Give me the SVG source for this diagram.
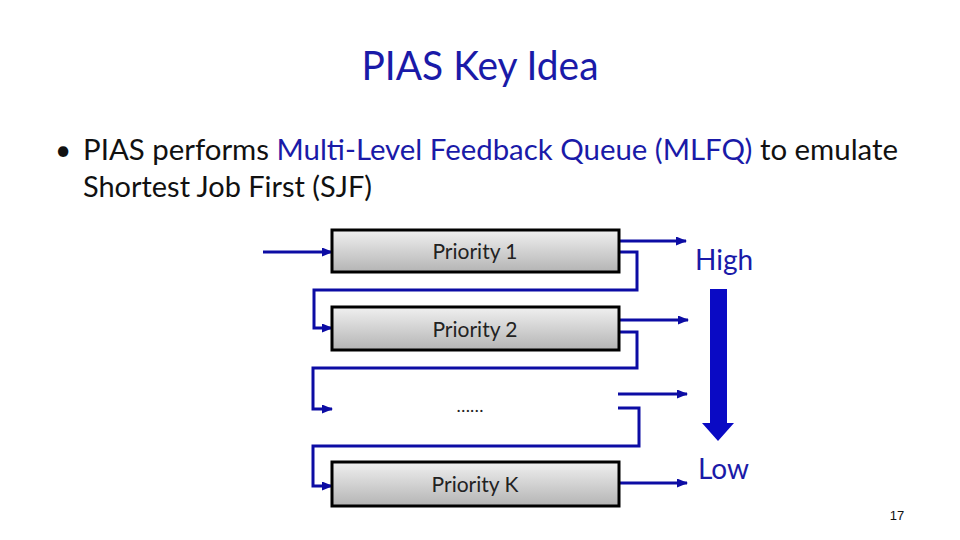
<svg xmlns="http://www.w3.org/2000/svg" width="960" height="540" viewBox="0 0 960 540">
<style>
.title{font-family:Lato,"Open Sans","Liberation Sans",sans-serif;font-size:40px;fill:#1a1aa8}
.body{font-family:Lato,"Open Sans","Liberation Sans",sans-serif;font-size:28px;fill:#111}
.hl{fill:#1a1aa8}
.lbl{font-family:Lato,"Open Sans","Liberation Sans",sans-serif;font-size:21px;fill:#222;text-anchor:middle}
.side{font-family:Lato,"Open Sans","Liberation Sans",sans-serif;font-size:28px;fill:#1a1aa8}
.box{fill:url(#g);stroke:#000;stroke-width:3}
.conn{fill:none;stroke:#0c0ca4;stroke-width:3}
</style>
<defs>
<linearGradient id="g" x1="0" y1="0" x2="0" y2="1">
<stop offset="0" stop-color="#f0f0f0"/>
<stop offset="1" stop-color="#b4b4b4"/>
</linearGradient>
<marker id="ah" markerUnits="userSpaceOnUse" markerWidth="11" markerHeight="9" refX="10" refY="4.5" orient="auto">
<path d="M0,0 L11,4.5 L0,9 Z" fill="#0c0ca4"/>
</marker>
</defs>
<rect width="960" height="540" fill="#fff"/>
<text class="title" x="480" y="80" text-anchor="middle" textLength="237" lengthAdjust="spacingAndGlyphs">PIAS Key Idea</text>
<text class="body" x="55" y="160">•</text>
<text class="body" x="83" y="160" textLength="815" lengthAdjust="spacingAndGlyphs">PIAS performs <tspan class="hl">Multi-Level Feedback Queue (MLFQ)</tspan> to emulate</text>
<text class="body" x="83" y="197" textLength="289" lengthAdjust="spacingAndGlyphs">Shortest Job First (SJF)</text>

<g id="connectors">
<path class="conn" marker-end="url(#ah)" d="M263,252 H332"/>
<path class="conn" marker-end="url(#ah)" d="M619,241 H686"/>
<path class="conn" marker-end="url(#ah)" d="M619,252 H637 V290 H314 V328 H332"/>
<path class="conn" marker-end="url(#ah)" d="M619,320 H688"/>
<path class="conn" marker-end="url(#ah)" d="M619,332 H637 V368 H313 V409 H332"/>
<path class="conn" marker-end="url(#ah)" d="M618,394 H687"/>
<path class="conn" marker-end="url(#ah)" d="M618,408 H639 V446 H313 V486 H332"/>
<path class="conn" marker-end="url(#ah)" d="M619,483 H687"/>
</g>

<g id="q1">
<rect class="box" x="332" y="230" width="287" height="42"/>
<text class="lbl" x="475" y="259">Priority 1</text>
</g>
<g id="q2">
<rect class="box" x="332" y="307" width="287" height="43"/>
<text class="lbl" x="475" y="337">Priority 2</text>
</g>
<g id="qdots">
<text x="470" y="412" font-family="Lato,'Liberation Sans',sans-serif" font-size="18" fill="#222" text-anchor="middle">……</text>
</g>
<g id="qk">
<rect class="box" x="332" y="462" width="287" height="44"/>
<text class="lbl" x="475" y="492">Priority K</text>
</g>

<g id="scale">
<text class="side" x="695" y="270">High</text>
<polygon points="710,289 727,289 727,423 734,423 718,441 702,423 710,423" fill="#0a0ac4"/>
<text class="side" x="698" y="479">Low</text>
</g>
<text x="897" y="520" font-family="'Liberation Sans',sans-serif" font-size="13" fill="#111" text-anchor="middle">17</text>
</svg>
